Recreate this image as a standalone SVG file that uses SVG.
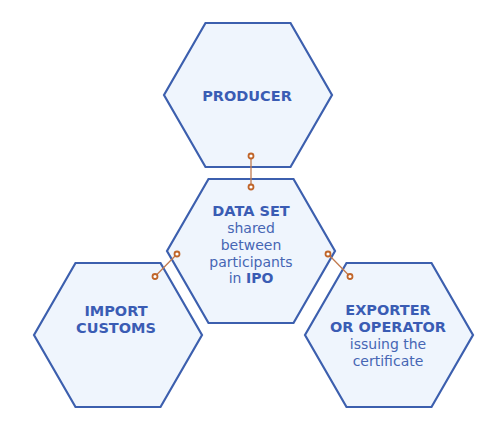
<svg xmlns="http://www.w3.org/2000/svg" width="504" height="433" viewBox="0 0 504 433">
<defs>
<style>
.hex{fill:#eff5fd;stroke:#3c5fae;stroke-width:2.2;stroke-linejoin:miter}
.b{font-family:"DejaVu Sans","Liberation Sans",sans-serif;font-weight:700;font-size:14.5px;fill:#3a5cb4;text-anchor:middle}
.r{font-family:"DejaVu Sans","Liberation Sans",sans-serif;font-weight:400;font-size:14px;fill:#4666b4;text-anchor:middle}
.ln{stroke:#c27a4e;stroke-width:1.3;fill:none}
.dot{fill:#fff;stroke:#c0652a;stroke-width:1.8}
</style>
<polygon id="hexshape" points="-84,0 -42.5,-72 42.5,-72 84,0 42.5,72 -42.5,72"/>
</defs>
<rect width="504" height="433" fill="#fff"/>
<g id="producer">
<use href="#hexshape" class="hex" transform="translate(248,95)"/>
<text class="b" x="247" y="101">PRODUCER</text>
</g>
<g id="dataset">
<use href="#hexshape" class="hex" transform="translate(251,251)"/>
<text class="b" x="251" y="216">DATA SET</text>
<text class="r" x="251" y="233">shared</text>
<text class="r" x="251" y="250">between</text>
<text class="r" x="251" y="266.5">participants</text>
<text class="r" x="251" y="283">in <tspan font-weight="700" fill="#3a5cb4">IPO</tspan></text>
</g>
<g id="import">
<use href="#hexshape" class="hex" transform="translate(118,335)"/>
<text class="b" x="116" y="316">IMPORT</text>
<text class="b" x="116" y="333">CUSTOMS</text>
</g>
<g id="exporter">
<use href="#hexshape" class="hex" transform="translate(389,335)"/>
<text class="b" x="388" y="315">EXPORTER</text>
<text class="b" x="388" y="332">OR OPERATOR</text>
<text class="r" x="388" y="349">issuing the</text>
<text class="r" x="388" y="366">certificate</text>
</g>
<g id="connectors">
<line class="ln" x1="251" y1="156" x2="251" y2="187"/>
<circle class="dot" cx="251" cy="156" r="2.5"/>
<circle class="dot" cx="251" cy="187" r="2.5"/>
<line class="ln" x1="177" y1="254" x2="155" y2="276.5"/>
<circle class="dot" cx="177" cy="254" r="2.5"/>
<circle class="dot" cx="155" cy="276.5" r="2.5"/>
<line class="ln" x1="328" y1="254" x2="350" y2="276.5"/>
<circle class="dot" cx="328" cy="254" r="2.5"/>
<circle class="dot" cx="350" cy="276.5" r="2.5"/>
</g>
</svg>
